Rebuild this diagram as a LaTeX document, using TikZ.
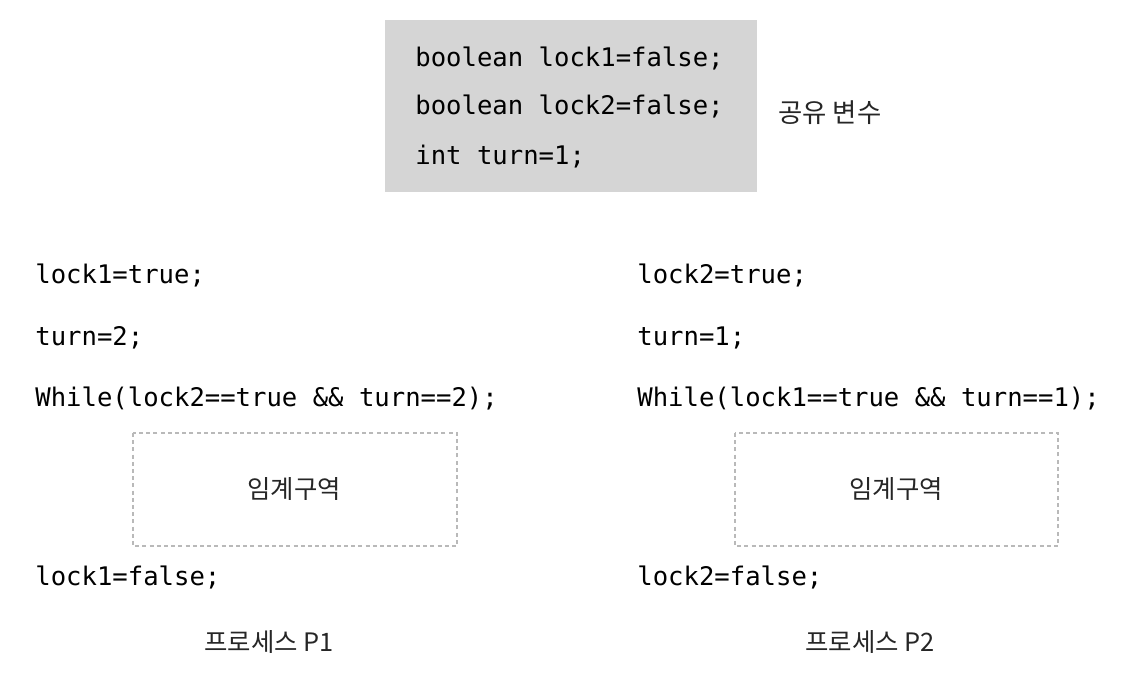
\documentclass[tikz,border=0pt]{standalone}
\usepackage{fontspec}
\setmonofont{DejaVu Sans Mono}
\newfontfamily\krfont{Noto Sans CJK KR}
\usepackage{xcolor}
\usepackage{tikz}
\usetikzlibrary{positioning}

\begin{document}
\begin{tikzpicture}[
    x=0.5pt, y=-0.5pt,
    code/.style={anchor=base west, inner sep=0pt, font=\fontsize{12.8}{15}\selectfont\ttfamily},
    kr/.style={inner sep=0pt, text=black!85, font=\fontsize{12.7}{15}\selectfont\krfont},
    sharedbox/.style={fill=gray!33},
    csbox/.style={draw=gray!55, line width=0.6pt, dash pattern=on 2pt off 1.6pt}
]
\useasboundingbox (0,0) rectangle (1124,688);
% shared variables
\path[sharedbox] (385,20) rectangle (757,192);
\node[code] (v1) at (415,67)  {boolean lock1=false;};
\node[code] (v2) at (415,115) {boolean lock2=false;};
\node[code] (v3) at (415,165) {int turn=1;};
\node[kr, anchor=base west, font=\fontsize{13.2}{15}\selectfont\krfont] (shared) at (778,123) {공유 변수};
% --- process P1 ---
\node[code] (a1) at (35,284) {lock1=true;};
\node[code] (a2) at (35,346) {turn=2;};
\node[code] (a3) at (35,407) {While(lock2==true \&\& turn==2);};
\draw[csbox] (133,433) rectangle (457,546);
\node[kr] (cs1) at (294,489) {임계구역};
\node[code] (a4) at (35,586) {lock1=false;};
\node[kr, anchor=base] (p1) at (269,652) {프로세스 P1};
% --- process P2 ---
\node[code] (b1) at (637,284) {lock2=true;};
\node[code] (b2) at (637,346) {turn=1;};
\node[code] (b3) at (637,407) {While(lock1==true \&\& turn==1);};
\draw[csbox] (735,433) rectangle (1058,546);
\node[kr] (cs2) at (896,489) {임계구역};
\node[code] (b4) at (637,586) {lock2=false;};
\node[kr, anchor=base] (p2) at (870,652) {프로세스 P2};
\end{tikzpicture}
\end{document}
